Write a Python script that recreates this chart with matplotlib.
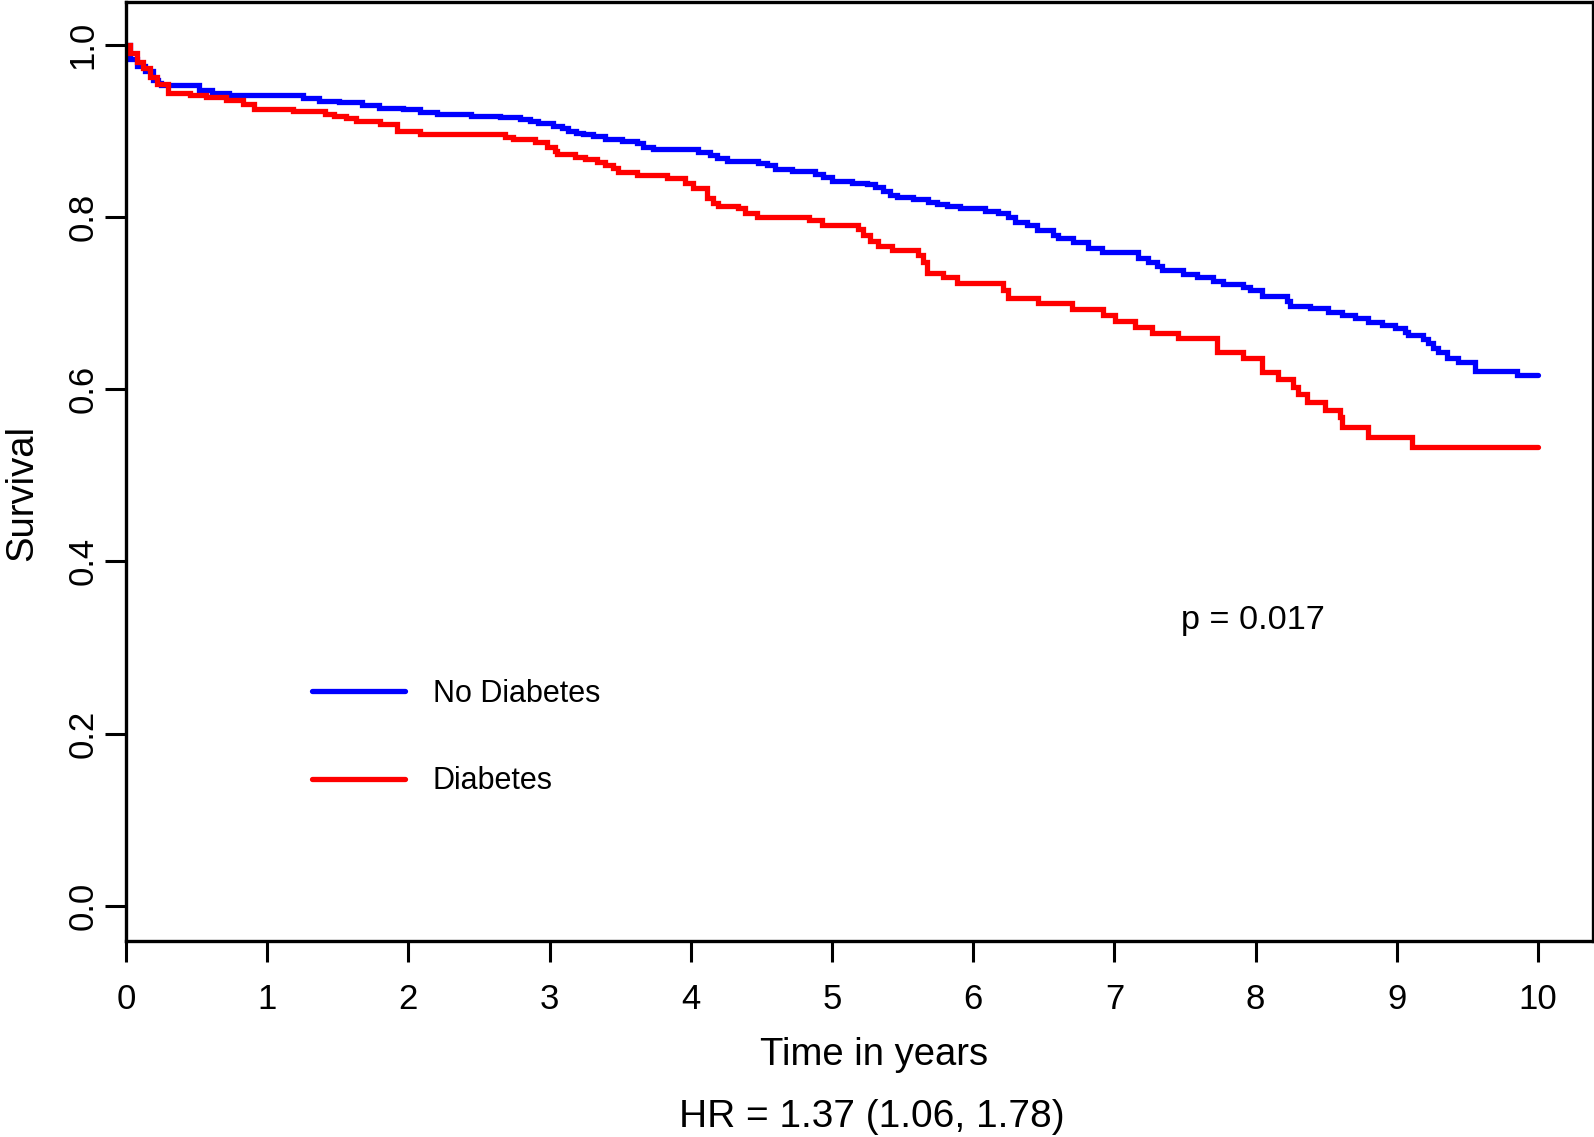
import matplotlib
matplotlib.use("Agg")
import matplotlib.pyplot as plt

plt.rcParams['font.family'] = ['Liberation Sans', 'DejaVu Sans']

# Kaplan-Meier step data: (time in years, survival after step)
no_diabetes = [
    (0, 1.0), (0.028, 0.984), (0.076, 0.975), (0.135, 0.969), (0.193, 0.959), (0.229, 0.956),
    (0.25, 0.953), (0.52, 0.9475), (0.61, 0.944), (0.73, 0.9417), (1.25, 0.938), (1.37, 0.935),
    (1.51, 0.933), (1.67, 0.930), (1.79, 0.927), (1.96, 0.925), (2.08, 0.922), (2.20, 0.920),
    (2.44, 0.917), (2.65, 0.9158), (2.79, 0.9135), (2.86, 0.9115), (2.92, 0.9088), (3.026, 0.9061),
    (3.085, 0.903), (3.13, 0.9003), (3.19, 0.898), (3.24, 0.8961), (3.31, 0.8942), (3.39, 0.8911),
    (3.51, 0.8888), (3.62, 0.8857), (3.66, 0.8818), (3.734, 0.8787), (4.053, 0.876), (4.136, 0.8721),
    (4.183, 0.869), (4.254, 0.8651), (4.478, 0.8624), (4.54, 0.8600), (4.596, 0.8558), (4.714, 0.8538),
    (4.88, 0.8495), (4.939, 0.8461), (4.998, 0.8422), (5.14, 0.8399), (5.246, 0.8379), (5.305, 0.8352),
    (5.364, 0.8306), (5.411, 0.8256), (5.458, 0.8229), (5.576, 0.8205), (5.682, 0.8178), (5.741, 0.8151),
    (5.812, 0.8128), (5.906, 0.8101), (6.084, 0.8074), (6.178, 0.8050), (6.249, 0.7996), (6.296, 0.7946),
    (6.379, 0.7907), (6.449, 0.7849), (6.568, 0.7791), (6.603, 0.7753), (6.709, 0.7714), (6.815, 0.7644),
    (6.91, 0.7590), (7.169, 0.7520), (7.24, 0.7481), (7.299, 0.7431), (7.334, 0.7384), (7.488, 0.7334),
    (7.582, 0.7299), (7.70, 0.7260), (7.771, 0.7222), (7.913, 0.7183), (7.96, 0.7152), (8.043, 0.7082),
    (8.22, 0.7028), (8.244, 0.6966), (8.385, 0.6939), (8.515, 0.6900), (8.609, 0.6861), (8.704, 0.6823),
    (8.798, 0.6784), (8.893, 0.6745), (8.987, 0.6706), (9.058, 0.6667), (9.081, 0.6629), (9.188, 0.6578),
    (9.223, 0.6532), (9.259, 0.6474), (9.294, 0.6435), (9.353, 0.6359), (9.436, 0.6320), (9.554, 0.6215),
    (9.849, 0.6165), (10.0, 0.6165),
]

diabetes = [
    (0, 1.0), (0.028, 0.990), (0.076, 0.980), (0.123, 0.973), (0.17, 0.963), (0.217, 0.955),
    (0.30, 0.944), (0.45, 0.9417), (0.57, 0.939), (0.71, 0.936), (0.83, 0.931), (0.91, 0.925),
    (1.18, 0.923), (1.41, 0.920), (1.47, 0.917), (1.56, 0.915), (1.63, 0.912), (1.80, 0.908),
    (1.92, 0.900), (2.08, 0.8964), (2.684, 0.8933), (2.743, 0.8902), (2.897, 0.8871), (2.979, 0.8817),
    (3.038, 0.8770), (3.05, 0.8732), (3.18, 0.8701), (3.251, 0.8670), (3.333, 0.8643), (3.392, 0.8604),
    (3.451, 0.8565), (3.487, 0.8527), (3.617, 0.8488), (3.83, 0.8449), (3.959, 0.8391), (4.018, 0.8333),
    (4.113, 0.8217), (4.16, 0.8166), (4.195, 0.8131), (4.337, 0.8100), (4.384, 0.8050), (4.467, 0.8004),
    (4.84, 0.7965), (4.927, 0.7907), (5.187, 0.7857), (5.222, 0.7791), (5.269, 0.7725), (5.328, 0.7667),
    (5.423, 0.7617), (5.61, 0.7559), (5.647, 0.7481), (5.67, 0.7346), (5.788, 0.7300), (5.883, 0.7238),
    (6.213, 0.7153), (6.249, 0.7056), (6.461, 0.6998), (6.697, 0.6932), (6.921, 0.6862), (7.004, 0.6796),
    (7.146, 0.6726), (7.264, 0.6657), (7.452, 0.6591), (7.724, 0.6436), (7.913, 0.6359), (8.043, 0.6204),
    (8.161, 0.6115), (8.267, 0.6030), (8.303, 0.5945), (8.362, 0.5856), (8.492, 0.5759), (8.598, 0.5682),
    (8.615, 0.5566), (8.798, 0.5450), (9.105, 0.5334), (10.0, 0.5334),
]

series_labels = ["No Diabetes", "Diabetes"]
series_colors = ["#0000FF", "#FF0000"]
x_ticks = list(range(0, 11))
y_ticks = [0.0, 0.2, 0.4, 0.6, 0.8, 1.0]
y_tick_labels = ["0.0", "0.2", "0.4", "0.6", "0.8", "1.0"]
p_text = "p = 0.017"
hr_text = "HR = 1.37 (1.06, 1.78)"

W, H = 1594, 1137
fig = plt.figure(figsize=(W / 100, H / 100), dpi=100)
left_px, right_px, bottom_px, top_px = 126, 1593, 941, 1.5
ax = fig.add_axes([left_px / W, 1 - bottom_px / H, (right_px - left_px) / W, (bottom_px - top_px) / H])

px_per_year = 141.2
px_per_unit = 861.0
ax.set_xlim(0, (right_px - left_px) / px_per_year)
y0 = -(bottom_px - 905.8) / px_per_unit
ax.set_ylim(y0, y0 + (bottom_px - top_px) / px_per_unit)

lines = []
for data, lab, col in zip([no_diabetes, diabetes], series_labels, series_colors):
    t = [p[0] for p in data]
    s = [p[1] for p in data]
    ln, = ax.step(t, s, where='post', color=col, lw=3.8, label=lab,
                  solid_capstyle='round', solid_joinstyle='miter')
    lines.append(ln)

for sp in ax.spines.values():
    sp.set_linewidth(2.4)

ax.set_xticks(x_ticks)
ax.set_xticklabels([str(v) for v in x_ticks])
ax.set_yticks(y_ticks)
ax.set_yticklabels(y_tick_labels, rotation=90, va='center')
ax.tick_params(axis='both', direction='out', length=15, width=2.2, labelsize=25)
ax.tick_params(axis='x', pad=15)
ax.tick_params(axis='y', pad=4)

leg = ax.legend(handles=lines, loc='center left', bbox_to_anchor=(1.317, 0.1955),
                bbox_transform=ax.transData, frameon=False, fontsize=22,
                handlelength=3.05, handletextpad=0.9, labelspacing=1.88,
                borderpad=0, borderaxespad=0)
for lh in leg.get_lines():
    lh.set_linewidth(3.8)

ax.text(7.98, 0.331, p_text, ha='center', va='center', fontsize=24.7)

fig.text(874 / W, 1 - 1055 / H, "Time in years", ha='center', va='center', fontsize=27.5)
fig.text(872 / W, 1 - 1117 / H, hr_text, ha='center', va='center', fontsize=28)
fig.text(22 / W, 1 - 493 / H, "Survival", ha='center', va='center', rotation=90, fontsize=27.5)

fig.savefig("out.png", dpi=100)
